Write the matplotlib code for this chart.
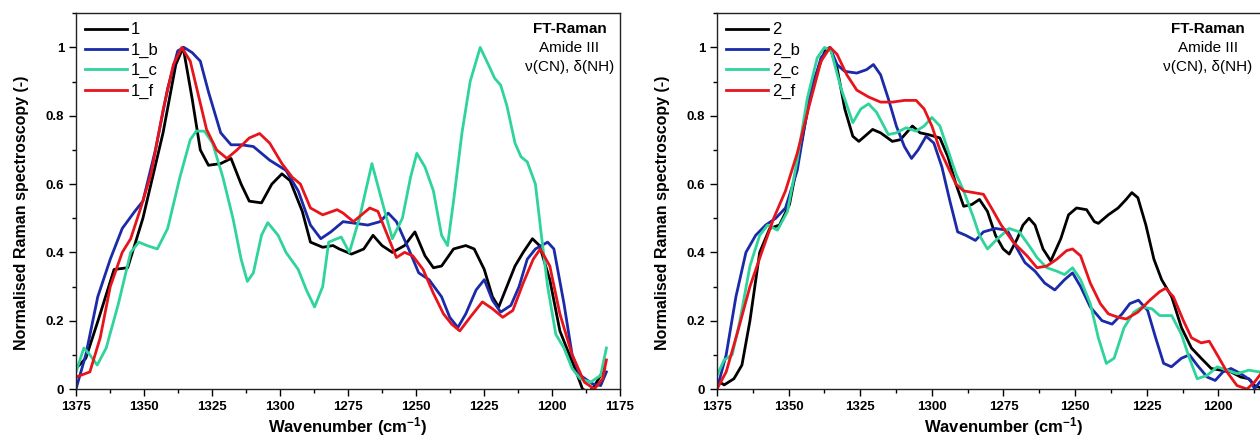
import matplotlib
matplotlib.use("Agg")
import matplotlib.pyplot as plt
from matplotlib.ticker import MultipleLocator, FuncFormatter

plt.rcParams['font.family'] = ['Liberation Sans', 'DejaVu Sans']
plt.rcParams['mathtext.fontset'] = 'custom'
plt.rcParams['mathtext.rm'] = 'Liberation Sans'
plt.rcParams['mathtext.default'] = 'regular'

# ---- left panel data ----
x1 = [1375, 1371.4, 1366.9, 1361, 1356, 1350.4, 1343, 1338.3, 1335.6, 1332.3, 1329.3, 1326.3,
      1321.8, 1318, 1314.3, 1311.3, 1306.8, 1303, 1299.3, 1296.3, 1291.8, 1288.8, 1284.3,
      1280.5, 1278.2, 1273.7, 1269.2, 1265.8, 1262.5, 1258.7, 1254.2, 1250.4, 1246.7, 1243.6,
      1240.6, 1236.2, 1231.7, 1228.6, 1224.9, 1221.9, 1219.6, 1216.6, 1213.6, 1210.6, 1207.2,
      1204.6, 1200.8, 1197.1, 1194.1, 1191.1, 1188.8, 1186.5, 1184.3, 1180.7]
y1 = [0.06, 0.09, 0.2, 0.35, 0.355, 0.5, 0.75, 0.95, 1.0, 0.85, 0.7, 0.655,
      0.66, 0.675, 0.6, 0.55, 0.545, 0.6, 0.63, 0.61, 0.52, 0.43, 0.415,
      0.42, 0.41, 0.395, 0.41, 0.45, 0.42, 0.40, 0.42, 0.46, 0.39, 0.355,
      0.36, 0.41, 0.42, 0.41, 0.35, 0.27, 0.24, 0.30, 0.36, 0.40, 0.44,
      0.42, 0.32, 0.17, 0.11, 0.05, 0.0, -0.01, 0.01, 0.06]

x1b = [1375, 1371.4, 1367, 1362.4, 1358, 1353.4, 1350.4, 1345.8, 1341.3, 1337.6, 1335.3, 1332.3,
       1329.3, 1326.3, 1321.8, 1318, 1314.3, 1309.8, 1303.8, 1297.8, 1293.3, 1288.8, 1285,
       1281.3, 1276.8, 1272.2, 1267.7, 1263.2, 1260.2, 1257.2, 1252.7, 1249, 1245.2, 1240.6,
       1237.6, 1234.6, 1231.7, 1227.9, 1224.9, 1221.9, 1218.9, 1215.1, 1212.1, 1209.1, 1206.1,
       1201.6, 1199.3, 1195.6, 1192.6, 1189.6, 1185.1, 1182.1, 1180]
y1b = [0.0, 0.1, 0.27, 0.38, 0.47, 0.52, 0.55, 0.7, 0.88, 0.99, 1.0, 0.985,
       0.96, 0.87, 0.75, 0.715, 0.715, 0.71, 0.67, 0.64, 0.58, 0.48, 0.44,
       0.46, 0.49, 0.485, 0.48, 0.49, 0.515, 0.49, 0.41, 0.34, 0.32, 0.27,
       0.21, 0.18, 0.22, 0.29, 0.32, 0.26, 0.225, 0.245, 0.30, 0.38, 0.41,
       0.43, 0.41, 0.25, 0.10, 0.04, 0.015, 0.01, 0.05]

x1c = [1375, 1372.1, 1369.9, 1367.2, 1363.9, 1359.4, 1354.9, 1351.9, 1348.9, 1345.1, 1341.3, 1336.8,
       1333, 1330.8, 1327.8, 1324.8, 1321, 1317.3, 1314.3, 1312, 1309.8, 1306.8, 1304.5,
       1300.7, 1297.8, 1293.3, 1290.3, 1287.3, 1284.3, 1282.1, 1277.5, 1274.5, 1270.8, 1266.2,
       1262.5, 1258.7, 1255, 1252, 1249.7, 1246.7, 1243.6, 1240.6, 1238.4, 1236.2, 1233.1,
       1230.1, 1226.4, 1223.4, 1221.1, 1218.9, 1216.6, 1213.6, 1211.4, 1209.1, 1206.1, 1203.9,
       1201.6, 1198.6, 1195.6, 1192.6, 1189.6, 1185.8, 1182.1, 1180]
y1c = [0.05, 0.12, 0.1, 0.07, 0.12, 0.25, 0.4, 0.43, 0.42, 0.41, 0.47, 0.62,
       0.73, 0.755, 0.755, 0.72, 0.62, 0.5, 0.38, 0.315, 0.34, 0.45, 0.487,
       0.45, 0.4, 0.35, 0.29, 0.24, 0.3, 0.43, 0.445, 0.4, 0.5, 0.66,
       0.55, 0.44, 0.5, 0.62, 0.69, 0.65, 0.58, 0.45, 0.42, 0.55, 0.75,
       0.9, 1.0, 0.95, 0.91, 0.89, 0.83, 0.72, 0.68, 0.665, 0.6, 0.45,
       0.3, 0.16, 0.12, 0.06, 0.03, 0.02, 0.04, 0.12]

x1f = [1375, 1369.9, 1366.1, 1362.4, 1358, 1354.9, 1351.2, 1347.4, 1342.9, 1339.2, 1336.1, 1333,
       1330, 1327, 1323.3, 1319.5, 1315.8, 1311.3, 1307.5, 1303.8, 1299.3, 1295.5, 1292.5,
       1288.8, 1284.3, 1279, 1276.8, 1273, 1270, 1267, 1264, 1261, 1257.2, 1254.2, 1251.2,
       1247.4, 1243.6, 1239.9, 1236.9, 1233.9, 1230.1, 1225.6, 1221.9, 1218.1, 1214.4, 1210.6,
       1206.9, 1204.3, 1200.8, 1197.1, 1192.6, 1188.1, 1184.4, 1181.4, 1180]
y1f = [0.035, 0.05, 0.15, 0.3, 0.4, 0.44, 0.53, 0.63, 0.82, 0.95, 1.0, 0.96,
       0.86, 0.76, 0.7, 0.675, 0.7, 0.735, 0.748, 0.72, 0.66, 0.62, 0.6,
       0.53, 0.51, 0.525, 0.515, 0.49, 0.51, 0.53, 0.52, 0.46, 0.385, 0.40, 0.39,
       0.35, 0.28, 0.22, 0.19, 0.17, 0.21, 0.255, 0.235, 0.21, 0.23, 0.31,
       0.38, 0.41, 0.36, 0.22, 0.1, 0.02, 0.0, 0.03, 0.085]

# ---- right panel data ----
x2 = [1375, 1372.5, 1369.1, 1366.3, 1363.5, 1360.1, 1356.6, 1353.2, 1349.7, 1345.6, 1341.4, 1337.3,
      1335.6, 1333.1, 1330.4, 1327.6, 1325.5, 1323.4, 1320.7, 1317.9, 1313.8, 1311, 1306.8,
      1304.1, 1301.3, 1297.2, 1294.4, 1291.6, 1288.9, 1286.1, 1283.4, 1280.6, 1277.8, 1275.1,
      1273, 1270.2, 1268.2, 1266.1, 1264, 1261.2, 1258.5, 1255, 1252.3, 1249.5, 1246, 1243.3,
      1241.9, 1238.4, 1235, 1232.2, 1230.2, 1228.1, 1225.3, 1222.5, 1219.8, 1216.3, 1212.9,
      1209.4, 1206, 1202.5, 1199.1, 1195.6, 1192.2, 1189.4, 1187.4, 1184, 1181]
y2 = [0.025, 0.012, 0.03, 0.07, 0.2, 0.4, 0.47, 0.48, 0.54, 0.72, 0.9, 0.99,
      1.0, 0.94, 0.82, 0.74, 0.725, 0.74, 0.76, 0.75, 0.725, 0.73, 0.77,
      0.75, 0.745, 0.735, 0.68, 0.6, 0.535, 0.54, 0.555, 0.52, 0.45, 0.41,
      0.395, 0.44, 0.48, 0.5, 0.48, 0.41, 0.375, 0.44, 0.51, 0.53, 0.525, 0.49,
      0.485, 0.51, 0.53, 0.555, 0.575, 0.56, 0.48, 0.38, 0.32, 0.27, 0.18,
      0.12, 0.09, 0.06, 0.055, 0.05, 0.035, 0.03, 0.01, 0.0, 0.04]

x2b = [1375, 1371.8, 1368.4, 1364.9, 1361.5, 1358, 1354.5, 1351.1, 1347, 1342.8, 1338.7, 1335.6,
       1333.1, 1330.4, 1326.2, 1322.8, 1320.4, 1317.9, 1315.2, 1312.4, 1309.6, 1307.1, 1304.8,
       1302, 1299.3, 1296.5, 1293.7, 1291, 1288.2, 1284.8, 1282, 1277.8, 1273.7, 1270.2,
       1267.5, 1264, 1260.6, 1257.1, 1253.7, 1250.9, 1248.1, 1244.7, 1240.6, 1237.1, 1233.6,
       1230.9, 1227.9, 1224.7, 1221.9, 1219.1, 1216.4, 1212.9, 1210.1, 1207.4, 1203.9, 1201.1,
       1198.4, 1195.6, 1192.2, 1188.7, 1187.4, 1185.6, 1182]
y2b = [0.0, 0.1, 0.27, 0.4, 0.45, 0.48, 0.5, 0.53, 0.64, 0.85, 0.97, 1.0,
       0.95, 0.93, 0.925, 0.935, 0.95, 0.92, 0.85, 0.77, 0.71, 0.675, 0.7,
       0.74, 0.72, 0.65, 0.55, 0.46, 0.45, 0.435, 0.46, 0.47, 0.465, 0.41,
       0.37, 0.345, 0.31, 0.29, 0.32, 0.34, 0.3, 0.24, 0.2, 0.19, 0.22,
       0.25, 0.26, 0.23, 0.15, 0.075, 0.065, 0.09, 0.1, 0.07, 0.035, 0.025,
       0.05, 0.06, 0.045, 0.025, 0.0, 0.02, 0.05]

x2c = [1375, 1372.5, 1369.7, 1367, 1363.5, 1360.1, 1357.3, 1353.9, 1350.4, 1347, 1343.5, 1340,
       1337.5, 1335.2, 1331.7, 1327.6, 1324.8, 1322.1, 1319.3, 1315.2, 1312.4, 1309, 1305.5,
       1302.7, 1300, 1297.2, 1294.4, 1291.6, 1288.9, 1285.4, 1283.4, 1280.6, 1277.1, 1273,
       1269.5, 1266.1, 1263.3, 1259.9, 1256.4, 1253.7, 1250.9, 1248.1, 1244.7, 1241.9, 1239.1,
       1236.4, 1232.9, 1229.5, 1226.7, 1223.2, 1220.5, 1216.3, 1212.9, 1210.1, 1207.4, 1203.9,
       1200.4, 1197, 1193.5, 1189.4, 1185.6, 1182]
y2c = [0.04, 0.085, 0.1, 0.2, 0.36, 0.45, 0.48, 0.465, 0.52, 0.67, 0.85, 0.97,
       1.0, 0.99, 0.88, 0.78, 0.82, 0.835, 0.81, 0.745, 0.75, 0.765, 0.755,
       0.77, 0.795, 0.77, 0.7, 0.63, 0.58, 0.5, 0.45, 0.41, 0.44, 0.47,
       0.46, 0.42, 0.385, 0.355, 0.345, 0.335, 0.355, 0.32, 0.25, 0.15, 0.075,
       0.09, 0.18, 0.225, 0.24, 0.235, 0.215, 0.215, 0.16, 0.09, 0.03, 0.04,
       0.065, 0.055, 0.045, 0.055, 0.05, 0.04]

x2f = [1375, 1371.8, 1367.7, 1363.5, 1359.4, 1355.2, 1351.1, 1347, 1342.8, 1338.7, 1335.5, 1333.1,
       1329.7, 1326.2, 1322.1, 1317.9, 1313.8, 1309.6, 1305.5, 1302.7, 1300, 1297.2, 1294.4,
       1291.6, 1288.9, 1285.4, 1282, 1279.2, 1275.8, 1271.6, 1266.8, 1263.3, 1259.9, 1256.4,
       1253, 1250.9, 1248.1, 1244.7, 1241.2, 1238.4, 1235, 1232.2, 1228.1, 1223.9, 1220.5,
       1218.4, 1215.7, 1212.2, 1209.4, 1206, 1203.2, 1200.4, 1197, 1193.5, 1190, 1187.4,
       1185.6, 1182]
y2f = [0.0, 0.05, 0.17, 0.3, 0.4, 0.5, 0.58, 0.69, 0.83, 0.96, 1.0, 0.98,
       0.92, 0.875, 0.855, 0.84, 0.84, 0.845, 0.845, 0.82, 0.77, 0.7, 0.65,
       0.6, 0.58, 0.575, 0.57, 0.53, 0.48, 0.43, 0.39, 0.355, 0.36, 0.38,
       0.405, 0.41, 0.39, 0.31, 0.25, 0.22, 0.21, 0.205, 0.225, 0.26, 0.285,
       0.295, 0.27, 0.2, 0.15, 0.135, 0.14, 0.1, 0.05, 0.01, 0.0, 0.02,
       0.04, 0.08]

colors = ['#000000', '#1a2aa8', '#2fd49a', '#e8141c']
panels = [
    ([(x1, y1), (x1b, y1b), (x1c, y1c), (x1f, y1f)], ['1', '1_b', '1_c', '1_f'],
     [76 / 1260, 54 / 443, 544 / 1260, 375.7 / 443], 0.907, -0.086, False),
    ([(x2, y2), (x2b, y2b), (x2c, y2c), (x2f, y2f)], ['2', '2_b', '2_c', '2_f'],
     [717 / 1260, 54 / 443, 573 / 1260, 375.7 / 443], 0.857, -0.082, True),
]

fig = plt.figure(figsize=(12.6, 4.43), dpi=100)


def ylab(v, p):
    if abs(v) < 1e-9:
        return '0'
    if abs(v - 1) < 1e-9:
        return '1'
    return '%.1f' % v


for series, labels, rect, tx, ylx, cropped in panels:
    ax = fig.add_axes(rect)
    for (xs, ys), lab, c in zip(series, labels, colors):
        ax.plot(xs, ys, color=c, lw=2.0, label=lab)
    ax.set_xlim(1375, 1175)
    ax.set_ylim(0, 1.1)
    ax.xaxis.set_major_locator(MultipleLocator(25))
    ax.xaxis.set_minor_locator(MultipleLocator(12.5))
    ax.yaxis.set_major_locator(MultipleLocator(0.2))
    ax.yaxis.set_minor_locator(MultipleLocator(0.1))
    if cropped:
        # the right panel runs off the edge of the picture; its last label is not shown
        ax.xaxis.set_major_formatter(FuncFormatter(lambda v, p: '' if v < 1190 else '%d' % v))
    ax.yaxis.set_major_formatter(FuncFormatter(ylab))
    ax.tick_params(which='major', direction='out', length=5, width=1, labelsize=9.5)
    ax.tick_params(which='minor', direction='out', length=3, width=1)
    for t in ax.get_xticklabels() + ax.get_yticklabels():
        t.set_fontweight('bold')
    for s in ax.spines.values():
        s.set_linewidth(1.0)
        s.set_color('#222222')
    ax.set_xlabel('Wavenumber (cm$^{-1}$)', fontsize=12, fontweight='bold', labelpad=2)
    ax.set_ylabel('Normalised Raman spectroscopy (-)', fontsize=11.5, fontweight='bold')
    ax.yaxis.set_label_coords(ylx, 0.47)
    ax.legend(loc='upper left', frameon=False, fontsize=12, handlelength=2.5,
              handletextpad=0.25, labelspacing=0.32, borderaxespad=0.35, borderpad=0.2)
    ax.text(tx, 0.958, 'FT-Raman', transform=ax.transAxes, ha='center', va='center',
            fontsize=11, fontweight='bold')
    ax.text(tx, 0.908, 'Amide III', transform=ax.transAxes, ha='center', va='center', fontsize=11)
    ax.text(tx, 0.857, 'ν(CN), δ(NH)', transform=ax.transAxes, ha='center', va='center', fontsize=11)

fig.savefig('out.png', dpi=100)
